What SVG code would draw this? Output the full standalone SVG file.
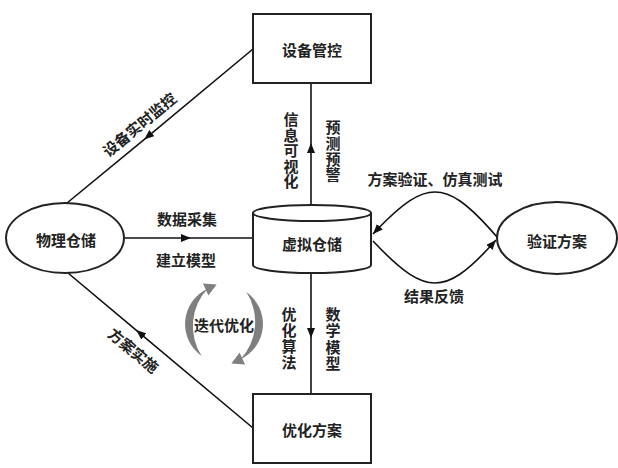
<svg xmlns="http://www.w3.org/2000/svg" width="618" height="468" viewBox="0 0 618 468">
<style>
  .shape { fill: #ffffff; stroke: #222222; stroke-width: 2; }
  .line { fill: none; stroke: #111111; stroke-width: 1.6; }
  .t { font-family: "Noto Sans CJK SC", "Liberation Sans", sans-serif; font-size: 15px; font-weight: bold; fill: #222222; text-anchor: middle; dominant-baseline: central; }
  .v { writing-mode: vertical-rl; }
  .cyc { fill: #7f7f7f; }
</style>
<defs>
  <marker id="mid" viewBox="0 0 10 8" refX="5" refY="4" markerWidth="10" markerHeight="8" markerUnits="userSpaceOnUse" orient="auto">
    <path d="M0,0 L10,4 L0,8 z" fill="#111111"/>
  </marker>
  <marker id="end" viewBox="0 0 10 8" refX="10" refY="4" markerWidth="10" markerHeight="8" markerUnits="userSpaceOnUse" orient="auto">
    <path d="M0,0 L10,4 L0,8 z" fill="#111111"/>
  </marker>
</defs>

<g id="connectors">
  <path class="line" d="M253,49 L148,136.3 L67,203" marker-mid="url(#mid)"/>
  <path class="line" d="M253,428 L140,333.3 L68,273" marker-mid="url(#mid)"/>
  <path class="line" d="M124,238 L186,238 L253,238" marker-mid="url(#mid)"/>
  <path class="line" d="M311,205 L311,148 L311,83" marker-mid="url(#mid)"/>
  <path class="line" d="M311,273 L311,333 L311,394" marker-mid="url(#mid)"/>
  <path class="line" d="M497,237 C466,201 450,192 435,192 C420,192 404,201 373,234" marker-end="url(#end)"/>
  <path class="line" d="M373,241 C404,274 420,283 435,283 C450,283 466,274 496,240" marker-end="url(#end)"/>
  <text class="t" transform="translate(139,124) rotate(-39.6)">设备实时监控</text>
  <text class="t" transform="translate(134,350) rotate(39.8)">方案实施</text>
  <text class="t" x="187" y="218">数据采集</text>
  <text class="t" x="186" y="259">建立模型</text>
  <text class="t v" x="291" y="151" style="letter-spacing:0.5px">信息可视化</text>
  <text class="t v" x="333" y="151.5" style="letter-spacing:0.7px">预测预警</text>
  <text class="t v" x="289" y="339" style="letter-spacing:1px">优化算法</text>
  <text class="t v" x="333" y="339.5" style="letter-spacing:1.5px">数学模型</text>
  <text class="t" x="435" y="178">方案验证、仿真测试</text>
  <text class="t" x="434" y="295">结果反馈</text>
</g>

<g id="node-shebeiguankong">
  <rect class="shape" x="253" y="14" width="118" height="69"/>
  <text class="t" x="312" y="49">设备管控</text>
</g>

<g id="node-xunicangchu">
  <path class="shape" d="M253,213 L253,265 A59,8 0 0 0 371,265 L371,213"/>
  <ellipse class="shape" cx="312" cy="213" rx="59" ry="8"/>
  <text class="t" x="312" y="243">虚拟仓储</text>
</g>

<g id="node-wulicangchu">
  <ellipse class="shape" cx="65" cy="238" rx="59" ry="35"/>
  <text class="t" x="66" y="239">物理仓储</text>
</g>

<g id="node-yanzhengfangan">
  <ellipse class="shape" cx="557" cy="238" rx="60" ry="36"/>
  <text class="t" x="557" y="240">验证方案</text>
</g>

<g id="node-youhuafangan">
  <rect class="shape" x="253" y="394" width="118" height="69"/>
  <text class="t" x="312" y="429">优化方案</text>
</g>

<g id="node-diedaiyouhua">
  <path class="cyc" d="M201.6,355.9 A39,39 0 0 1 207.5,288.7 A55,55 0 0 0 201.6,355.9 z"/>
  <path class="cyc" d="M216.6,284.4 L203,283.6 L208.4,295.4 z"/>
  <path class="cyc" d="M246.4,292.1 A39,39 0 0 1 240.5,359.3 A55,55 0 0 0 246.4,292.1 z"/>
  <path class="cyc" d="M231.4,363.6 L245,364.4 L239.6,352.6 z"/>
  <text class="t" x="224" y="324">迭代优化</text>
</g>
</svg>
